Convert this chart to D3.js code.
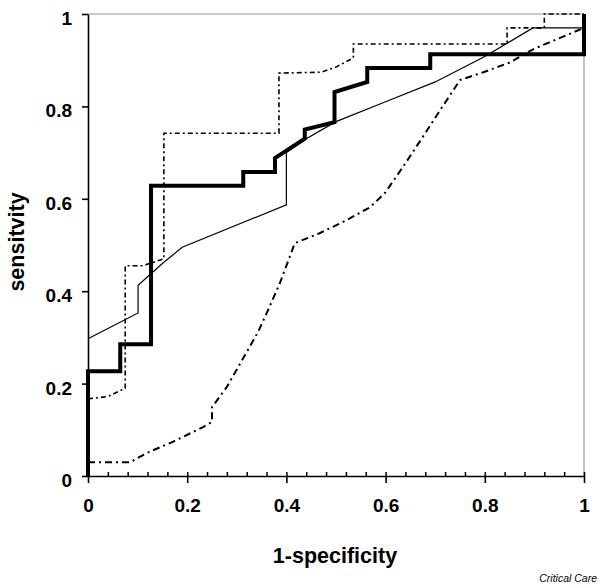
<!doctype html>
<html lang="en">
  <head>
    <meta charset="utf-8">
    <title>ROC curves</title>
    <style>
        body { margin: 0; background: #fff; }
        text { font-family: "Liberation Sans", Arial, sans-serif; }
        .tick text { font-weight: bold; font-size: 19px; fill: #000; }
        .label { font-weight: bold; font-size: 21.5px; }
        .curve { fill: none; stroke: #000; }
    </style>
  </head>
  <body>
    <svg width="600" height="585"></svg>

    <script src="https://d3js.org/d3.v7.min.js"></script>
    <script>
        // tick values
        var xTicks = [0, 0.2, 0.4, 0.6, 0.8, 1];
        var yTicks = [0, 0.2, 0.4, 0.6, 0.8, 1];
        var xMinor = d3.range(0, 26).map(i => i * 0.04);

        // [1-specificity, sensitivity]
        var thickCurve = [[0,0],[0,0.227],[0.065,0.227],[0.065,0.285],[0.127,0.285],[0.127,0.628],
            [0.313,0.628],[0.313,0.658],[0.377,0.658],[0.377,0.688],[0.437,0.73],[0.437,0.75],
            [0.497,0.766],[0.497,0.831],[0.563,0.853],[0.563,0.883],[0.69,0.883],[0.69,0.913],
            [1,0.913],[1,1]];
        var thinCurve = [[0,0.297],[0.101,0.353],[0.101,0.413],[0.15,0.46],[0.19,0.495],
            [0.4,0.587],[0.4,0.7],[0.44,0.73],[0.5,0.767],[0.6,0.81],[0.7,0.853],[0.8,0.908],
            [0.897,0.97],[1,0.97]];
        var dashCurve = [[0,0.167],[0.04,0.172],[0.075,0.19],[0.075,0.455],[0.11,0.455],
            [0.153,0.47],[0.153,0.742],[0.385,0.742],[0.385,0.872],[0.47,0.874],[0.5,0.885],
            [0.535,0.905],[0.535,0.935],[0.845,0.935],[0.845,0.97],[0.92,0.97],[0.92,1],[1,1]];
        var dashDotCurve = [[0,0.03],[0.085,0.03],[0.119,0.05],[0.171,0.074],[0.232,0.106],
            [0.25,0.117],[0.25,0.149],[0.28,0.193],[0.343,0.312],[0.363,0.359],[0.387,0.418],
            [0.417,0.504],[0.468,0.526],[0.52,0.553],[0.569,0.582],[0.599,0.613],[0.635,0.669],
            [0.675,0.734],[0.71,0.792],[0.75,0.857],[0.8,0.875],[0.85,0.895],[0.9,0.925],[1,0.97]];

        var svg = d3.select("svg");

        var x = d3.scaleLinear().domain([0, 1]).range([88, 584]);
        var y = d3.scaleLinear().domain([0, 1]).range([476, 14]);

        // grey frame on top and right
        svg.append("path")
            .attr("d", "M" + x(0) + "," + y(1) + "H" + x(1) + "V" + y(0))
            .attr("fill", "none")
            .attr("stroke", "#999")
            .attr("stroke-width", 1.2);

        var line = d3.line().x(d => x(d[0])).y(d => y(d[1]));

        svg.append("path").datum(thinCurve)
            .attr("class", "curve")
            .attr("d", line)
            .attr("stroke", "#333")
            .attr("stroke-width", 1.2);

        svg.append("path").datum(dashCurve)
            .attr("class", "curve")
            .attr("d", line)
            .attr("stroke-width", 1.6)
            .attr("stroke-dasharray", "5,3,2,3");

        svg.append("path").datum(dashDotCurve)
            .attr("class", "curve")
            .attr("d", line)
            .attr("stroke-width", 2)
            .attr("stroke-dasharray", "7,4,2,4");

        svg.append("path").datum(thickCurve)
            .attr("class", "curve")
            .attr("d", line)
            .attr("stroke-width", 4);

        // x axis: minor ticks above, major ticks below
        svg.append("g")
            .attr("transform", "translate(0," + y(0) + ")")
            .call(d3.axisTop(x).tickValues(xMinor).tickSize(4).tickFormat(""))
            .call(g => g.select(".domain").remove())
            .selectAll("line").attr("stroke-width", 1.5);

        svg.append("g")
            .attr("transform", "translate(0," + y(0) + ")")
            .call(d3.axisBottom(x).tickValues(xTicks).tickSize(7).tickSizeOuter(0).tickPadding(16)
                .tickFormat(d => d3.format("")(d)))
            .call(g => g.selectAll("line, path").attr("stroke-width", 1.6));

        svg.append("g")
            .attr("transform", "translate(" + x(0) + ",0)")
            .call(d3.axisLeft(y).tickValues(yTicks).tickSize(6).tickSizeOuter(0).tickPadding(10)
                .tickFormat(d => d3.format("")(d)))
            .call(g => g.selectAll("line, path").attr("stroke-width", 1.6))
            .selectAll("text").attr("dy", "0.55em");

        svg.append("text")
            .attr("class", "label")
            .attr("x", 335).attr("y", 563)
            .attr("text-anchor", "middle")
            .text("1-specificity");

        svg.append("text")
            .attr("class", "label")
            .attr("transform", "translate(24,242) rotate(-90)")
            .attr("text-anchor", "middle")
            .text("sensitvity");

        svg.append("text")
            .attr("x", 597).attr("y", 582)
            .attr("text-anchor", "end")
            .style("font-style", "italic")
            .style("font-size", "10.5px")
            .text("Critical Care");
    </script>
  </body>
</html>
